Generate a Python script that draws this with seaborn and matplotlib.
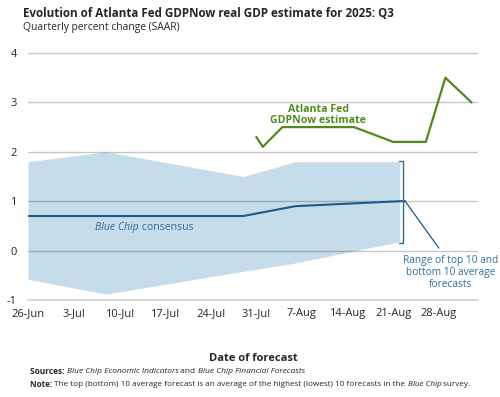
import matplotlib
matplotlib.use("Agg")
import matplotlib.pyplot as plt
import matplotlib.dates as mdates
import seaborn as sns
import pandas as pd

# Blue Chip band (top 10 / bottom 10 averages) and consensus
bc_dates = ["2025-06-26", "2025-07-08", "2025-07-29", "2025-08-06", "2025-08-22"]
bc_top10 = [1.8, 2.0, 1.5, 1.8, 1.8]
bc_bottom10 = [-0.58, -0.88, -0.42, -0.25, 0.18]
bc_consensus = [0.7, 0.7, 0.7, 0.9, 1.0]

# Atlanta Fed GDPNow
gdpnow_dates = ["2025-07-31", "2025-08-01", "2025-08-04", "2025-08-15",
                "2025-08-21", "2025-08-26", "2025-08-29", "2025-09-02"]
gdpnow_values = [2.3, 2.1, 2.5, 2.5, 2.2, 2.2, 3.5, 3.0]

tick_dates = ["2025-06-26", "2025-07-03", "2025-07-10", "2025-07-17", "2025-07-24",
              "2025-07-31", "2025-08-07", "2025-08-14", "2025-08-21", "2025-08-28"]
tick_labels = ["26-Jun", "3-Jul", "10-Jul", "17-Jul", "24-Jul",
               "31-Jul", "7-Aug", "14-Aug", "21-Aug", "28-Aug"]

sns.set_style("white")
plt.rcParams["font.family"] = ["Open Sans", "DejaVu Sans"]

blue_dark = "#1b5a8c"
blue_text = "#2d6e9e"
band_col = "#c6dcea"
green = "#4f8a1c"

bc = pd.DataFrame({"date": pd.to_datetime(bc_dates), "top": bc_top10,
                   "bottom": bc_bottom10, "consensus": bc_consensus})
gn = pd.DataFrame({"date": pd.to_datetime(gdpnow_dates), "value": gdpnow_values})

fig = plt.figure(figsize=(5.0, 3.97), dpi=100)
ax = fig.add_axes([0.056, 0.2443, 0.90, 0.6247])

ax.fill_between(bc["date"], bc["bottom"], bc["top"], color=band_col, lw=0, zorder=1)
# gridlines drawn semi-transparent over the band
for yv in [0, 1, 2, 3, 4]:
    ax.axhline(yv, color="black", alpha=0.22, lw=1.0, zorder=1.5)
ax.axhline(-1, color="#cfcfcf", lw=1.2, zorder=2, clip_on=False)

ext = pd.concat([bc[["date", "consensus"]],
                 pd.DataFrame({"date": [pd.Timestamp("2025-08-22 20:00")], "consensus": [1.0]})])
sns.lineplot(data=ext, x="date", y="consensus", color=blue_dark, lw=1.5, ax=ax, zorder=3)
sns.lineplot(data=gn, x="date", y="value", color=green, lw=1.6, ax=ax, zorder=3)

# bracket at the end of the band
bx = mdates.date2num(pd.Timestamp("2025-08-22 12:00"))
ax.plot([bx - 0.6, bx, bx, bx - 0.6], [1.82, 1.82, 0.15, 0.15], color=blue_text, lw=1.0, zorder=3)
# leader line
ax.plot([mdates.date2num(pd.Timestamp("2025-08-22 20:00")), mdates.date2num(pd.Timestamp("2025-08-28"))],
        [1.0, 0.05], color=blue_dark, lw=0.9, zorder=3)

ax.text(mdates.date2num(pd.Timestamp("2025-08-29 18:00")), -0.08,
        "Range of top 10 and\nbottom 10 average\nforecasts", color=blue_text,
        fontsize=7.3, ha="center", va="top", linespacing=1.15)
ax.text(mdates.date2num(pd.Timestamp("2025-08-09 12:00")), 2.75,
        "Atlanta Fed\nGDPNow estimate", color=green, fontsize=7.6,
        fontweight="bold", ha="center", va="center", linespacing=1.05)
xc = mdates.date2num(pd.Timestamp("2025-07-13"))
ax.text(xc, 0.47, "Blue Chip", color=blue_text, fontsize=7.6, style="italic",
        ha="right", va="center")
ax.text(xc, 0.47, " consensus", color=blue_text, fontsize=7.6, ha="left", va="center")

ax.set_xlim(mdates.date2num(pd.Timestamp("2025-06-26")), mdates.date2num(pd.Timestamp("2025-09-03")))
ax.set_ylim(-1, 4.02)
ax.set_xticks(pd.to_datetime(tick_dates))
ax.set_xticklabels(tick_labels, fontsize=8)
ax.set_yticks([-1, 0, 1, 2, 3, 4])
ax.set_yticklabels(["-1", "0", "1", "2", "3", "4"], fontsize=8)
ax.tick_params(axis="x", direction="in", length=3.5, width=0.9, color="#a8a8a8", pad=6)
ax.tick_params(axis="y", length=0, pad=8)
sns.despine(ax=ax, left=True, bottom=True)
ax.set_xlabel("Date of forecast", fontsize=8, fontweight="bold", labelpad=24)
ax.set_ylabel("")

fig.text(0.046, 0.966, "Evolution of Atlanta Fed GDPNow real GDP estimate for 2025: Q3",
         fontsize=8.4, fontweight="bold", va="center")
fig.text(0.046, 0.931, "Quarterly percent change (SAAR)", fontsize=7.4, va="center")


def run_text(x, y, pieces, size=6.0):
    # draw text pieces one after another on one line
    renderer = fig.canvas.get_renderer()
    for txt, kw in pieces:
        t = fig.text(x, y, txt, fontsize=size, va="center", **kw)
        bb = t.get_window_extent(renderer=renderer)
        x = bb.x1 / fig.bbox.width


run_text(0.06, 0.063, [("Sources: ", {"fontweight": "bold"}),
                       ("Blue Chip Economic Indicators", {"style": "italic"}),
                       (" and ", {}),
                       ("Blue Chip Financial Forecasts", {"style": "italic"})])
run_text(0.06, 0.032, [("Note: ", {"fontweight": "bold"}),
                       ("The top (bottom) 10 average forecast is an average of the highest (lowest) 10 forecasts in the ", {}),
                       ("Blue Chip", {"style": "italic"}),
                       (" survey.", {})], size=5.9)

fig.savefig("out.png", dpi=100)
